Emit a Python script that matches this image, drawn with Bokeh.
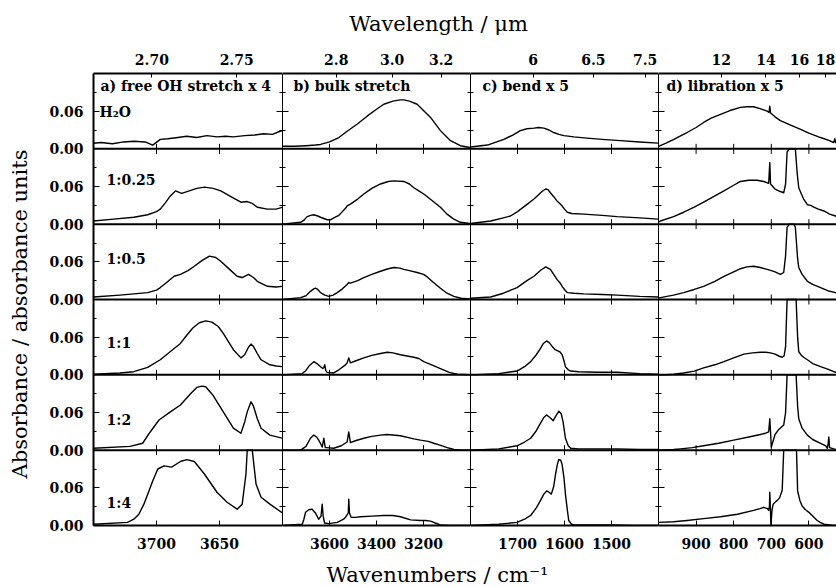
import numpy as np
from bokeh.plotting import figure
from bokeh.layouts import row, column
from bokeh.models import Range1d, LinearAxis, FixedTicker, Span, CustomJSTickFormatter
from bokeh.embed import file_html
from bokeh.resources import INLINE
from bokeh.core.properties import value

# ---------------- data (wavenumber cm^-1, absorbance) ----------------
ROW_LABELS = ["H₂O", "1:0.25", "1:0.5", "1:1", "1:2", "1:4"]
PANEL_TITLES = ["a) free OH stretch x 4", "b) bulk stretch", "c) bend x 5", "d) libration x 5"]
X_RANGES = [(3750, 3600), (3800, 3000), (1800, 1400), (1000, 500)]
BOTTOM_TICKS = [[3700, 3650], [3600, 3400, 3200], [1700, 1600, 1500], [900, 800, 700, 600]]
TOP_WL = [[2.70, 2.75], [2.8, 3.0, 3.2], [6.0, 6.5, 7.0], [12, 14, 16, 18]]
TOP_LABELS = [["2.70", "2.75"], ["2.8", "3.0", "3.2"], ["6", "6.5", "7.5"], ["12", "14", "16", "18"]]
Y_MAJOR = [0.00, 0.06]
Y_MINOR = [0.03, 0.09]
ROW_H = 0.12

A_H2O = [(3750,.009),(3744,.010),(3735,.008),(3726,.011),(3718,.012),(3709,.011),(3703,.006),(3697,.015),(3691,.016),(3683,.018),(3676,.020),(3668,.018),(3660,.021),(3652,.019),(3645,.020),(3639,.019),(3630,.021),(3622,.022),(3615,.024),(3608,.023),(3602,.028),(3600,.029)]
A_025 = [(3750,.005),(3734,.008),(3718,.011),(3707,.015),(3700,.020),(3697,.024),(3693,.034),(3689,.045),(3685,.053),(3680,.049),(3674,.053),(3668,.057),(3662,.059),(3655,.057),(3649,.053),(3641,.044),(3633,.035),(3628,.036),(3624,.033),(3620,.027),(3612,.024),(3605,.024),(3600,.027)]
A_05 = [(3750,.004),(3729,.007),(3707,.011),(3700,.015),(3697,.019),(3692,.027),(3686,.037),(3681,.040),(3675,.046),(3670,.053),(3664,.062),(3658,.069),(3653,.067),(3649,.061),(3642,.048),(3636,.037),(3632,.035),(3627,.040),(3623,.035),(3620,.029),(3612,.021),(3605,.020),(3600,.021)]
A_1 = [(3750,.001),(3729,.003),(3718,.005),(3707,.012),(3697,.024),(3686,.042),(3681,.050),(3676,.063),(3671,.075),(3666,.083),(3661,.086),(3656,.084),(3651,.077),(3647,.066),(3639,.040),(3633,.027),(3630,.032),(3627,.044),(3625,.049),(3623,.045),(3620,.034),(3617,.024),(3610,.016),(3605,.014),(3600,.013)]
A_2 = [(3750,.003),(3721,.006),(3711,.011),(3705,.029),(3698,.048),(3689,.061),(3681,.072),(3673,.090),(3668,.100),(3664,.102),(3661,.101),(3655,.087),(3647,.061),(3639,.035),(3633,.027),(3630,.045),(3628,.061),(3625,.077),(3623,.070),(3620,.050),(3617,.035),(3610,.024),(3600,.019)]
A_4 = [(3750,.002),(3723,.005),(3718,.010),(3714,.018),(3710,.034),(3706,.055),(3703,.071),(3699,.090),(3694,.095),(3688,.093),(3681,.102),(3676,.105),(3670,.102),(3662,.082),(3652,.053),(3644,.037),(3636,.026),(3632,.034),(3629,.082),(3628,.130),(3626,.160),(3624,.130),(3621,.066),(3617,.045),(3610,.034),(3600,.020)]

B_H2O = [(3800,.004),(3750,.004),(3700,.005),(3660,.006),(3638,.007),(3600,.011),(3560,.018),(3525,.028),(3480,.040),(3440,.052),(3400,.063),(3369,.071),(3330,.076),(3300,.078),(3284,.078),(3260,.076),(3227,.071),(3213,.066),(3170,.050),(3128,.029),(3085,.013),(3043,.005),(3000,.002)]
B_025 = [(3800,.000),(3723,.003),(3710,.006),(3695,.012),(3680,.014),(3667,.015),(3650,.013),(3638,.011),(3624,.009),(3610,.007),(3596,.007),(3582,.010),(3560,.014),(3530,.026),(3525,.029),(3511,.032),(3480,.040),(3454,.048),(3420,.057),(3383,.064),(3350,.068),(3326,.069),(3284,.068),(3260,.064),(3241,.058),(3220,.053),(3199,.048),(3165,.038),(3128,.027),(3100,.016),(3071,.008),(3043,.003),(3000,.001)]
B_05 = [(3800,.000),(3723,.003),(3700,.006),(3681,.013),(3667,.017),(3660,.018),(3650,.016),(3638,.011),(3620,.007),(3603,.005),(3585,.007),(3567,.011),(3545,.017),(3525,.024),(3518,.027),(3511,.026),(3480,.030),(3454,.035),(3420,.040),(3383,.045),(3350,.049),(3326,.051),(3300,.050),(3284,.048),(3260,.046),(3227,.043),(3200,.040),(3184,.036),(3160,.028),(3128,.018),(3100,.010),(3071,.005),(3040,.002),(3000,.001)]
B_1 = [(3800,.000),(3716,.002),(3700,.007),(3685,.015),(3667,.021),(3650,.017),(3638,.013),(3628,.010),(3624,.012),(3620,.016),(3616,.007),(3610,.004),(3582,.003),(3560,.008),(3535,.015),(3525,.019),(3518,.027),(3511,.019),(3490,.022),(3454,.027),(3420,.031),(3383,.034),(3354,.036),(3330,.035),(3298,.032),(3270,.030),(3241,.028),(3220,.026),(3199,.021),(3160,.015),(3128,.010),(3090,.004),(3057,.001),(3000,.000)]
B_2 = [(3800,.000),(3723,.000),(3700,.006),(3690,.013),(3681,.019),(3667,.024),(3655,.021),(3646,.016),(3636,.009),(3631,.005),(3624,.019),(3618,.004),(3613,.004),(3582,.003),(3550,.007),(3525,.013),(3518,.029),(3511,.012),(3490,.015),(3454,.019),(3420,.022),(3383,.024),(3354,.025),(3298,.023),(3241,.018),(3213,.016),(3180,.014),(3156,.011),(3130,.008),(3099,.004),(3070,.001),(3043,.000),(3000,.000)]
B_4 = [(3800,.000),(3716,.002),(3709,.010),(3702,.021),(3688,.025),(3674,.026),(3660,.020),(3646,.010),(3636,.015),(3631,.034),(3627,.015),(3621,.004),(3603,.003),(3567,.005),(3540,.010),(3532,.013),(3520,.020),(3518,.042),(3515,.020),(3508,.013),(3490,.013),(3468,.014),(3420,.015),(3369,.016),(3330,.016),(3298,.014),(3255,.009),(3213,.008),(3190,.008),(3170,.007),(3150,.004),(3128,.001),(3090,.000),(3000,.000)]

C_H2O = [(1800,.003),(1764,.006),(1729,.015),(1710,.022),(1694,.029),(1680,.032),(1665,.033),(1655,.034),(1644,.033),(1633,.030),(1623,.026),(1612,.023),(1601,.021),(1580,.019),(1552,.017),(1520,.015),(1481,.013),(1440,.011),(1400,.009)]
C_025 = [(1800,.001),(1757,.005),(1730,.010),(1715,.013),(1700,.020),(1679,.032),(1665,.040),(1658,.045),(1648,.052),(1640,.056),(1635,.055),(1630,.050),(1622,.043),(1616,.037),(1610,.033),(1605,.029),(1600,.024),(1594,.019),(1585,.017),(1559,.016),(1520,.014),(1488,.012),(1440,.010),(1400,.008)]
C_05 = [(1800,.002),(1757,.004),(1730,.010),(1701,.019),(1680,.030),(1665,.037),(1650,.047),(1640,.052),(1630,.048),(1622,.039),(1616,.032),(1609,.026),(1605,.021),(1598,.014),(1594,.011),(1580,.010),(1559,.009),(1520,.008),(1488,.007),(1440,.005),(1400,.004)]
C_1 = [(1800,.000),(1740,.002),(1701,.006),(1685,.013),(1672,.021),(1660,.032),(1651,.042),(1645,.050),(1638,.054),(1632,.051),(1626,.045),(1620,.040),(1614,.038),(1609,.036),(1605,.032),(1601,.022),(1598,.013),(1592,.008),(1587,.006),(1570,.005),(1530,.004),(1488,.004),(1440,.002),(1400,.001)]
C_2 = [(1800,.000),(1740,.002),(1701,.007),(1685,.013),(1672,.019),(1660,.031),(1651,.043),(1644,.052),(1638,.056),(1631,.052),(1624,.047),(1618,.055),(1612,.062),(1607,.058),(1603,.045),(1598,.019),(1592,.007),(1587,.003),(1570,.002),(1530,.002),(1488,.002),(1440,.001),(1400,.001)]
C_4 = [(1800,.000),(1740,.002),(1701,.005),(1685,.010),(1672,.016),(1660,.028),(1651,.040),(1644,.050),(1638,.055),(1633,.053),(1628,.050),(1623,.062),(1619,.082),(1615,.098),(1612,.105),(1608,.104),(1605,.097),(1601,.075),(1598,.050),(1594,.025),(1591,.008),(1585,.002),(1580,.001),(1540,.001),(1501,.001),(1450,.000),(1400,.000)]

D_H2O = [(1000,.004),(980,.009),(959,.015),(940,.021),(924,.026),(900,.034),(880,.042),(860,.049),(835,.055),(810,.061),(782,.066),(765,.067),(747,.067),(730,.064),(711,.060),(706,.058),(704,.068),(702,.057),(690,.051),(676,.045),(650,.038),(622,.031),(600,.025),(569,.018),(545,.013),(534,.010),(531,.016),(529,.010),(527,.009)]
D_025 = [(1000,.003),(995,.005),(960,.012),(933,.019),(905,.027),(880,.035),(850,.045),(826,.053),(800,.062),(782,.068),(760,.070),(738,.070),(720,.068),(707,.065),(704,.098),(702,.064),(699,.062),(690,.056),(676,.052),(667,.050),(662,.064),(658,.115),(652,.250),(649,.300),(640,.250),(636,.120),(631,.080),(627,.058),(620,.048),(614,.040),(604,.031),(595,.030),(587,.027),(575,.024),(560,.021),(545,.016),(529,.013),(527,.012)]
D_05 = [(1000,.002),(995,.003),(960,.007),(933,.011),(905,.016),(880,.021),(850,.029),(826,.037),(800,.044),(782,.049),(765,.052),(747,.053),(730,.051),(711,.048),(700,.046),(690,.044),(676,.040),(667,.043),(662,.070),(658,.115),(652,.250),(649,.300),(640,.250),(636,.115),(630,.065),(627,.051),(618,.040),(604,.029),(590,.024),(569,.019),(550,.014),(529,.011),(527,.010)]
D_1 = [(1000,.000),(990,.000),(960,.001),(933,.003),(905,.006),(880,.011),(850,.016),(826,.021),(800,.027),(773,.033),(750,.035),(729,.036),(715,.036),(702,.035),(690,.033),(680,.030),(671,.028),(666,.030),(662,.045),(658,.120),(652,.250),(649,.350),(640,.250),(634,.120),(630,.060),(627,.037),(620,.031),(614,.028),(604,.024),(590,.018),(569,.013),(550,.009),(534,.005),(527,.004)]
D_2 = [(1000,.000),(960,.001),(941,.002),(910,.004),(880,.007),(840,.011),(800,.016),(760,.021),(729,.025),(715,.027),(707,.029),(704,.050),(702,.029),(700,.005),(690,.025),(680,.033),(667,.040),(662,.060),(658,.120),(652,.250),(649,.350),(640,.250),(634,.120),(630,.070),(627,.050),(618,.035),(604,.024),(590,.017),(569,.011),(555,.007),(551,.003),(549,.010),(547,.021),(545,.004),(534,.002),(527,.001)]
D_4 = [(1000,.005),(960,.006),(924,.008),(880,.011),(835,.014),(790,.018),(747,.024),(730,.027),(720,.029),(710,.027),(707,.024),(705,.030),(704,.053),(702,.020),(701,.000),(698,.025),(695,.034),(690,.037),(684,.040),(678,.044),(671,.056),(667,.150),(660,.300),(649,.400),(640,.300),(633,.150),(630,.055),(624,.040),(618,.031),(609,.025),(600,.021),(590,.015),(578,.008),(570,.005),(560,.002),(545,.001),(534,.000),(527,.000)]

CURVES = [
    [A_H2O, A_025, A_05, A_1, A_2, A_4],
    [B_H2O, B_025, B_05, B_1, B_2, B_4],
    [C_H2O, C_025, C_05, C_1, C_2, C_4],
    [D_H2O, D_025, D_05, D_1, D_2, D_4],
]

# ---------------- layout / style ----------------
FONT = "DejaVu Serif"
FRAME_W = [189, 188, 188, 178]     # last panel is cut by the page edge
FULL_W = [189, 188, 188, 188]
FRAME_H = 452
TOP_B, BOT_B = 33, 30
A_LEFT_B = 55
LBL_W = 38
TOP_H, BOT_H = 40, 31
MID_H = TOP_B + FRAME_H + BOT_B
TOTAL_W = LBL_W + A_LEFT_B + sum(FRAME_W)
ROW_LABEL_DX = [6, 13, 13, 13, 13, 13]          # px from left frame edge
ROW_LABEL_DY = [0.058, 0.070, 0.065, 0.050, 0.048, 0.036]
TITLE_DX = [7, 11, 12, 8]
TITLE_SIZE = "21px"


def style_axis(ax, tick_in, minor_in=0, labels=True, standoff=6, line_w=1.0):
    ax.major_tick_in = tick_in
    ax.major_tick_out = 0
    ax.minor_tick_in = minor_in
    ax.minor_tick_out = 0
    ax.axis_line_width = line_w
    ax.axis_line_color = "black"
    ax.major_tick_line_color = "black"
    ax.minor_tick_line_color = "black"
    ax.major_tick_line_width = 1
    ax.minor_tick_line_width = 1
    if labels:
        ax.major_label_text_font = FONT
        ax.major_label_text_font_size = "14px"
        ax.major_label_text_font_style = "bold"
        ax.major_label_text_color = "black"
        ax.major_label_standoff = standoff
    else:
        ax.formatter = CustomJSTickFormatter(code="return '';")
        ax.major_label_text_font_size = "0px"
        ax.major_label_standoff = 0


yfmt = CustomJSTickFormatter(args=dict(h=ROW_H), code="""
const f = tick / h - Math.floor(tick / h + 1e-6);
return Math.abs(f * h).toFixed(2);
""")
lookup_code = """
let best = 0, d = Infinity;
for (let i = 0; i < pos.length; i++) {
  const e = Math.abs(pos[i] - tick);
  if (e < d) { d = e; best = i; }
}
return labs[best];
"""

ymaj = [k * ROW_H + t for k in range(6) for t in Y_MAJOR]
ymin = [k * ROW_H + t for k in range(6) for t in Y_MINOR]

col_figs = []
for i in range(4):
    x0, x1 = X_RANGES[i]
    x1v = x0 + (x1 - x0) * FRAME_W[i] / FULL_W[i]
    px_x = (x1v - x0) / FRAME_W[i]
    px_y = 6 * ROW_H / FRAME_H
    p = figure(frame_width=FRAME_W[i], frame_height=FRAME_H,
               x_range=Range1d(x0, x1v), y_range=Range1d(0, 6 * ROW_H),
               x_axis_type=None, y_axis_type=None, toolbar_location=None,
               output_backend="svg", min_border=0,
               min_border_left=A_LEFT_B if i == 0 else 0, min_border_right=0,
               min_border_top=TOP_B, min_border_bottom=BOT_B,
               outline_line_color=None, background_fill_color="white",
               border_fill_color="white")

    left = LinearAxis(ticker=FixedTicker(ticks=ymaj, minor_ticks=ymin))
    style_axis(left, 6, 3, labels=(i == 0), standoff=10, line_w=2 if i == 0 else 1)
    if i == 0:
        left.formatter = yfmt
    p.add_layout(left, "left")
    if i < 3:
        right = LinearAxis(ticker=FixedTicker(ticks=ymaj, minor_ticks=ymin))
        style_axis(right, 6, 3, labels=False, line_w=1)
        p.add_layout(right, "right")

    top_pos = [1e4 / w for w in TOP_WL[i]]
    top = LinearAxis(ticker=FixedTicker(ticks=top_pos),
                     formatter=CustomJSTickFormatter(args=dict(pos=top_pos, labs=TOP_LABELS[i]),
                                                     code=lookup_code))
    style_axis(top, 4, labels=True, standoff=9, line_w=2)
    p.add_layout(top, "above")

    bot = LinearAxis(ticker=FixedTicker(ticks=BOTTOM_TICKS[i]))
    style_axis(bot, 5, labels=True, standoff=12, line_w=2)
    p.add_layout(bot, "below")

    # row boundaries and their inward x ticks
    for k in range(1, 6):
        yb = k * ROW_H
        p.add_layout(Span(location=yb, dimension="width", line_color="black", line_width=2))
        n = len(BOTTOM_TICKS[i])
        p.ray(x=BOTTOM_TICKS[i], y=[yb] * n, length=5, length_units="screen",
              angle=np.pi / 2, line_color="black", line_width=1)
        p.ray(x=BOTTOM_TICKS[i], y=[yb] * n, length=5, length_units="screen",
              angle=-np.pi / 2, line_color="black", line_width=1)

    # spectra
    for r in range(6):
        base = (5 - r) * ROW_H
        wn = np.array([pt[0] for pt in CURVES[i][r]], dtype=float)
        ab = np.array([pt[1] for pt in CURVES[i][r]], dtype=float)
        p.line(wn, base + np.minimum(ab, ROW_H), line_color="black", line_width=1.4,
               line_join="round")

    # panel title
    p.text(x=[x0 + TITLE_DX[i] * px_x], y=[6 * ROW_H - 12 * px_y], text=[PANEL_TITLES[i]],
           text_font=value(FONT), text_font_size="14px", text_font_style="bold",
           text_align="left", text_baseline="middle", text_color="black")

    if i == 0:
        lx = [x0 + dx * px_x for dx in ROW_LABEL_DX]
        ly = [(5 - r) * ROW_H + ROW_LABEL_DY[r] for r in range(6)]
        p.text(x=lx, y=ly, text=ROW_LABELS, text_font=value(FONT), text_font_size="14px",
               text_font_style="bold", text_align="left", text_baseline="middle",
               text_color="black")
    col_figs.append(p)


def text_fig(w, h):
    f = figure(width=w, height=h, x_range=Range1d(0, w), y_range=Range1d(0, h),
               x_axis_type=None, y_axis_type=None, toolbar_location=None,
               output_backend="svg", min_border=0, outline_line_color=None,
               background_fill_color="white", border_fill_color="white")
    return f


top_fig = text_fig(TOTAL_W, TOP_H)
top_fig.text(x=[438], y=[TOP_H - 23], text=["Wavelength / μm"], text_align="center",
             text_baseline="middle", text_font=value(FONT), text_font_size=TITLE_SIZE,
             text_color="black")

bot_fig = text_fig(TOTAL_W, BOT_H)
bot_fig.text(x=[437], y=[12], text=["Wavenumbers / cm⁻¹"], text_align="center",
             text_baseline="middle", text_font=value(FONT), text_font_size=TITLE_SIZE,
             text_color="black")

lab_fig = text_fig(LBL_W, MID_H)
lab_fig.text(x=[19], y=[MID_H - (314 - TOP_H)], text=["Absorbance / absorbance units"],
             angle=np.pi / 2, text_align="center", text_baseline="middle",
             text_font=value(FONT), text_font_size=TITLE_SIZE, text_color="black")

layout = column(top_fig, row(lab_fig, *col_figs), bot_fig)
open("out.html", "w").write(file_html(layout, INLINE))
